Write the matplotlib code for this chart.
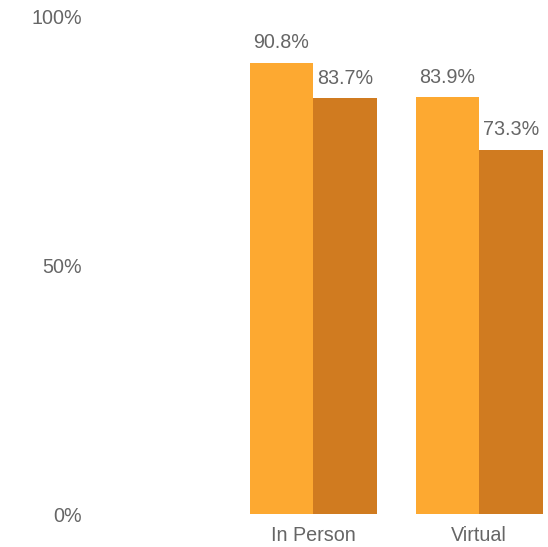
import matplotlib.pyplot as plt
import numpy as np

plt.rcParams["font.family"] = ["Liberation Sans", "DejaVu Sans"]

categories = ["In Person", "Virtual"]
first_series = [90.8, 83.9]   # light orange
second_series = [83.7, 73.3]  # dark orange
ytick_values = [0, 50, 100]
ytick_labels = ["0%", "50%", "100%"]

light = "#FDA931"
dark = "#D07B20"
grey = "#666666"
fsize = 14.2

fig = plt.figure(figsize=(5.48, 5.47), dpi=100)
W, H = 548, 547
ax = fig.add_axes([95 / W, 33 / H, (W - 95) / W, 497 / H])

x = np.arange(len(categories))
bw = 0.383
b1 = ax.bar(x - bw / 2, first_series, bw, color=light)
b2 = ax.bar(x + bw / 2, second_series, bw, color=dark)

for bars in (b1, b2):
    ax.bar_label(bars, labels=[f"{v:.1f}%" for v in bars.datavalues],
                 padding=7.5, fontsize=fsize, color=grey)

ax.set_xlim(-1.316, 1.415)
ax.set_ylim(0, 100)
ax.set_xticks(x)
ax.set_xticklabels(categories)
ax.set_yticks(ytick_values)
ax.set_yticklabels(ytick_labels)
ax.tick_params(axis="both", length=0, labelsize=fsize, labelcolor=grey)
ax.tick_params(axis="y", pad=9.4)
ax.tick_params(axis="x", pad=8.5)
for s in ax.spines.values():
    s.set_visible(False)

fig.savefig("out.png", dpi=100)
